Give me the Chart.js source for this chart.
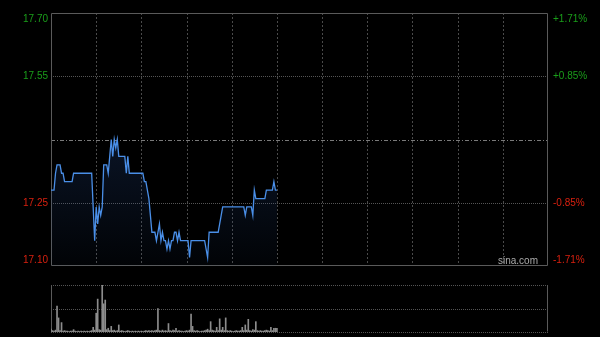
<!DOCTYPE html>
<html>
<head>
<meta charset="utf-8">
<script src="https://cdn.jsdelivr.net/npm/chart.js@4.4.1/dist/chart.umd.min.js"></script>
<style>
  html, body { margin: 0; padding: 0; background: #000; width: 600px; height: 337px; overflow: hidden; }
  canvas { position: absolute; left: 0; }
  #priceChart { top: 0; }
  #volChart { top: 275px; }
  #brand { position: absolute; left: 498px; top: 255px; font: 10px Arial, "Liberation Sans", sans-serif; line-height: 12px; color: #aaa; }
</style>
</head>
<body>
<canvas id="priceChart" width="600" height="275"></canvas>
<canvas id="volChart" width="600" height="62"></canvas>
<div id="brand">sina.com</div>
<script>
// HK session: 330 minutes, morning data only (9:30 - 12:00)
const sessionMinutes = 330;
const prevClose = 17.40;
const priceTicks = [17.10, 17.25, 17.40, 17.55, 17.70];
const priceLabels = ['17.10', '17.25', '', '17.55', '17.70'];
const pctLabels = ['-1.71%', '-0.85%', '', '+0.85%', '+1.71%'];

// one price per minute
const prices = [
  17.28, 17.28, 17.28, 17.32, 17.34, 17.34, 17.34, 17.32, 17.32, 17.30,
  17.30, 17.30, 17.30, 17.30, 17.30, 17.32, 17.32, 17.32, 17.32, 17.32,
  17.32, 17.32, 17.32, 17.32, 17.32, 17.32, 17.32, 17.32, 17.24, 17.16,
  17.24, 17.20, 17.24, 17.22, 17.24, 17.34, 17.34, 17.34, 17.32, 17.36,
  17.40, 17.36, 17.40, 17.38, 17.40, 17.36, 17.36, 17.36, 17.36, 17.36,
  17.32, 17.36, 17.32, 17.32, 17.32, 17.32, 17.32, 17.32, 17.32, 17.32,
  17.32, 17.32, 17.30, 17.30, 17.28, 17.26, 17.22, 17.18, 17.18, 17.18,
  17.16, 17.18, 17.20, 17.16, 17.18, 17.16, 17.16, 17.14, 17.16, 17.14,
  17.16, 17.16, 17.18, 17.18, 17.16, 17.18, 17.16, 17.16, 17.16, 17.16,
  17.16, 17.16, 17.12, 17.16, 17.16, 17.16, 17.16, 17.16, 17.16, 17.16,
  17.16, 17.16, 17.16, 17.14, 17.12, 17.18, 17.18, 17.18, 17.18, 17.18,
  17.18, 17.18, 17.20, 17.22, 17.24, 17.24, 17.24, 17.24, 17.24, 17.24,
  17.24, 17.24, 17.24, 17.24, 17.24, 17.24, 17.24, 17.24, 17.24, 17.22,
  17.24, 17.24, 17.24, 17.24, 17.22, 17.28, 17.26, 17.26, 17.26, 17.26,
  17.26, 17.26, 17.26, 17.28, 17.28, 17.28, 17.28, 17.28, 17.30, 17.28,
  17.28
];

// volume per minute (relative)
const volumes = [
  6, 3, 2, 4, 55, 30, 3, 20, 2, 3,
  2, 2, 1, 2, 2, 5, 2, 1, 2, 1,
  2, 1, 2, 1, 2, 1, 2, 3, 10, 4,
  40, 70, 5, 4, 100, 60, 68, 5, 8, 3,
  12, 3, 4, 2, 3, 15, 2, 3, 2, 1,
  2, 3, 2, 1, 2, 1, 2, 1, 2, 1,
  2, 1, 2, 3, 2, 3, 2, 3, 2, 3,
  4, 50, 3, 2, 4, 2, 3, 2, 18, 3,
  2, 4, 3, 8, 2, 3, 2, 2, 1, 2,
  3, 2, 4, 38, 12, 3, 2, 3, 2, 1,
  2, 2, 3, 4, 6, 3, 22, 4, 3, 2,
  10, 3, 28, 4, 10, 3, 30, 3, 2, 3,
  2, 1, 2, 3, 2, 2, 3, 10, 3, 15,
  4, 27, 3, 2, 5, 4, 22, 3, 2, 3,
  2, 2, 3, 4, 3, 2, 10, 3, 8, 8,
  8
];

const fontFamily = 'Arial, "Liberation Sans", sans-serif';
const upColor = '#1a9e1a';
const downColor = '#d8200f';

// grid lines drawn from the scales
const gridPlugin = {
  id: 'sinaGrid',
  beforeDatasetsDraw(chart, args, opts) {
    const ctx = chart.ctx;
    const a = chart.chartArea;
    const x = chart.scales.x;
    const y = chart.scales.y;
    ctx.save();
    ctx.lineWidth = 1;

    if (opts.vStep) {
      ctx.strokeStyle = '#4a4a4a';
      ctx.setLineDash([2, 2]);
      for (let m = opts.vStep; m < sessionMinutes; m += opts.vStep) {
        const px = Math.round(x.getPixelForValue(m)) + 0.5;
        ctx.beginPath();
        ctx.moveTo(px, a.top);
        ctx.lineTo(px, a.bottom);
        ctx.stroke();
      }
    }

    (opts.hLines || []).forEach(function (h) {
      const py = Math.round(y.getPixelForValue(h.value)) + 0.5;
      ctx.strokeStyle = h.color;
      ctx.setLineDash(h.dash);
      ctx.beginPath();
      ctx.moveTo(a.left, py);
      ctx.lineTo(a.right, py);
      ctx.stroke();
    });

    ctx.setLineDash([]);
    ctx.strokeStyle = '#5a5a5a';
    const l = Math.round(a.left) + 0.5, r = Math.round(a.right) - 0.5;
    const t = Math.round(a.top) + 0.5, b = Math.round(a.bottom) - 0.5;
    ctx.beginPath();
    ctx.moveTo(l, t); ctx.lineTo(l, b);
    ctx.moveTo(r, t); ctx.lineTo(r, b);
    if (opts.boxed) {
      ctx.moveTo(l, t); ctx.lineTo(r, t);
      ctx.moveTo(l, b); ctx.lineTo(r, b);
    }
    ctx.stroke();
    ctx.restore();
  }
};

function tickColor(c) {
  const v = c.tick.value;
  if (v > prevClose) return upColor;
  if (v < prevClose) return downColor;
  return '#aaa';
}

// top and bottom labels are pushed inside the box, like the original
function shiftLabel(text, index) {
  if (index === 0) return [text, ''];
  if (index === priceTicks.length - 1) return ['', text];
  return text;
}

function fixAxis(width) {
  return function (s) {
    s.width = width;
    s.paddingTop = 0;
    s.paddingBottom = 0;
  };
}

const pricePoints = prices.map((p, i) => ({ x: i, y: p }));
const volPoints = volumes.map((v, i) => ({ x: i, y: v }));

new Chart(document.getElementById('priceChart').getContext('2d'), {
  type: 'line',
  data: {
    datasets: [{
      data: pricePoints,
      borderColor: '#4a8fe8',
      borderWidth: 1.3,
      pointRadius: 0,
      tension: 0,
      fill: 'start',
      backgroundColor: function (c) {
        const a = c.chart.chartArea;
        if (!a) return 'rgba(0,0,0,0)';
        const g = c.chart.ctx.createLinearGradient(0, a.top, 0, a.bottom);
        g.addColorStop(0, 'rgba(40,80,150,0.45)');
        g.addColorStop(1, 'rgba(40,80,150,0.04)');
        return g;
      }
    }]
  },
  options: {
    responsive: false,
    animation: false,
    layout: { padding: { top: 13, bottom: 9, left: 0, right: 0 } },
    plugins: {
      legend: { display: false },
      tooltip: { enabled: false },
      sinaGrid: {
        vStep: 30,
        boxed: true,
        hLines: [
          { value: 17.55, color: '#555', dash: [1, 1] },
          { value: 17.25, color: '#555', dash: [1, 1] },
          { value: prevClose, color: '#7a7a7a', dash: [4, 2, 1, 2] }
        ]
      }
    },
    scales: {
      x: { type: 'linear', min: 0, max: sessionMinutes, display: false },
      y: {
        position: 'left',
        min: 17.10, max: 17.70,
        afterBuildTicks: s => { s.ticks = priceTicks.map(v => ({ value: v })); },
        afterFit: fixAxis(51),
        grid: { display: false, drawTicks: false },
        border: { display: false },
        ticks: {
          padding: 3,
          color: tickColor,
          font: { family: fontFamily, size: 10 },
          callback: (v, i) => shiftLabel(priceLabels[i], i)
        }
      },
      y2: {
        position: 'right',
        min: 17.10, max: 17.70,
        afterBuildTicks: s => { s.ticks = priceTicks.map(v => ({ value: v })); },
        afterFit: fixAxis(52),
        grid: { display: false, drawTicks: false },
        border: { display: false },
        ticks: {
          padding: 5,
          color: tickColor,
          font: { family: fontFamily, size: 10 },
          callback: (v, i) => shiftLabel(pctLabels[i], i)
        }
      }
    }
  },
  plugins: [gridPlugin]
});

new Chart(document.getElementById('volChart').getContext('2d'), {
  type: 'bar',
  data: {
    datasets: [{
      data: volPoints,
      backgroundColor: '#8c8c8c',
      barThickness: 1,
      borderWidth: 0
    }]
  },
  options: {
    responsive: false,
    animation: false,
    layout: { padding: { top: 10, bottom: 5, left: 51, right: 52 } },
    plugins: {
      legend: { display: false },
      tooltip: { enabled: false },
      sinaGrid: {
        hLines: [
          { value: 100, color: '#555', dash: [1, 1] },
          { value: 50, color: '#555', dash: [1, 1] },
          { value: 0, color: '#555', dash: [1, 1] }
        ]
      }
    },
    scales: {
      x: { type: 'linear', min: 0, max: sessionMinutes, offset: false, display: false },
      y: { min: 0, max: 100, display: false }
    }
  },
  plugins: [gridPlugin]
});
</script>
</body>
</html>
